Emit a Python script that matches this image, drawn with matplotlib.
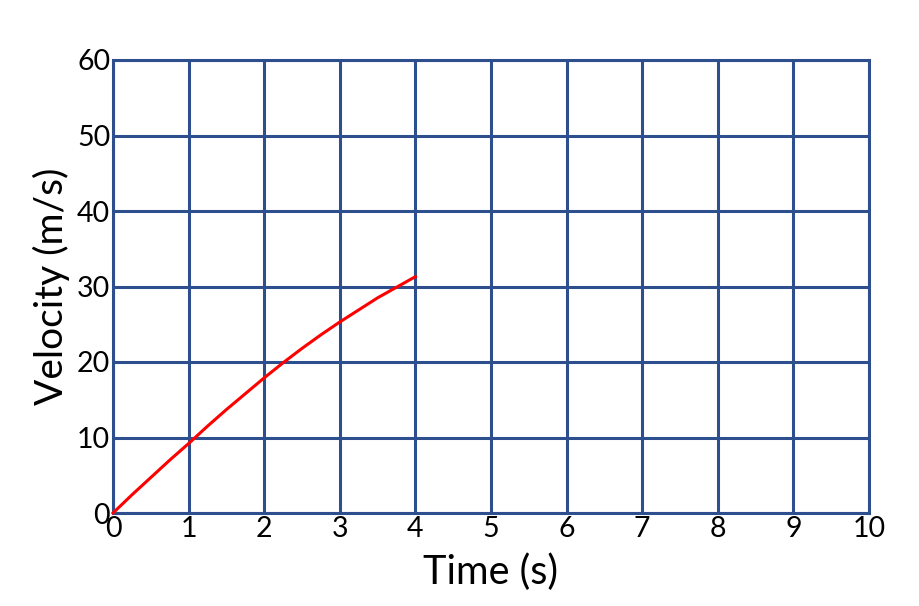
import numpy as np
import matplotlib.pyplot as plt

plt.rcParams['font.family'] = ['Lato', 'DejaVu Sans']

# velocity values
time_s = [0, 0.25, 0.5, 0.75, 1, 1.25, 1.5, 1.75, 2, 2.25, 2.5, 2.75, 3,
          3.25, 3.5, 3.75, 4]
velocity = [0, 2.4, 4.7, 7.0, 9.2, 11.5, 13.7, 15.8, 17.9, 19.9, 21.8, 23.6,
            25.3, 26.9, 28.5, 29.9, 31.3]

x_ticks = list(range(0, 11))
y_ticks = list(range(0, 61, 10))

GRID = '#2E4F8E'

fig = plt.figure(figsize=(9.2, 6.06), dpi=100)
ax = fig.add_axes([113 / 920, 1 - 513 / 606, (869 - 113) / 920, (513 - 60) / 606])

ax.plot(time_s, velocity, color='#FF0000', lw=2.2, zorder=3, clip_on=False)

ax.set_xlim(0, 10)
ax.set_ylim(0, 60)
ax.set_xticks(x_ticks)
ax.set_yticks(y_ticks)
ax.grid(True, color=GRID, lw=2.2)
ax.set_axisbelow(True)
for s in ax.spines.values():
    s.set_color(GRID)
    s.set_linewidth(2.2)
ax.tick_params(length=0, labelsize=20.5, pad=2)

ax.set_xlabel('Time (s)', fontsize=28.5, labelpad=8)
ax.set_ylabel('Velocity (m/s)', fontsize=28, labelpad=5)

fig.savefig('out.png', dpi=100)
